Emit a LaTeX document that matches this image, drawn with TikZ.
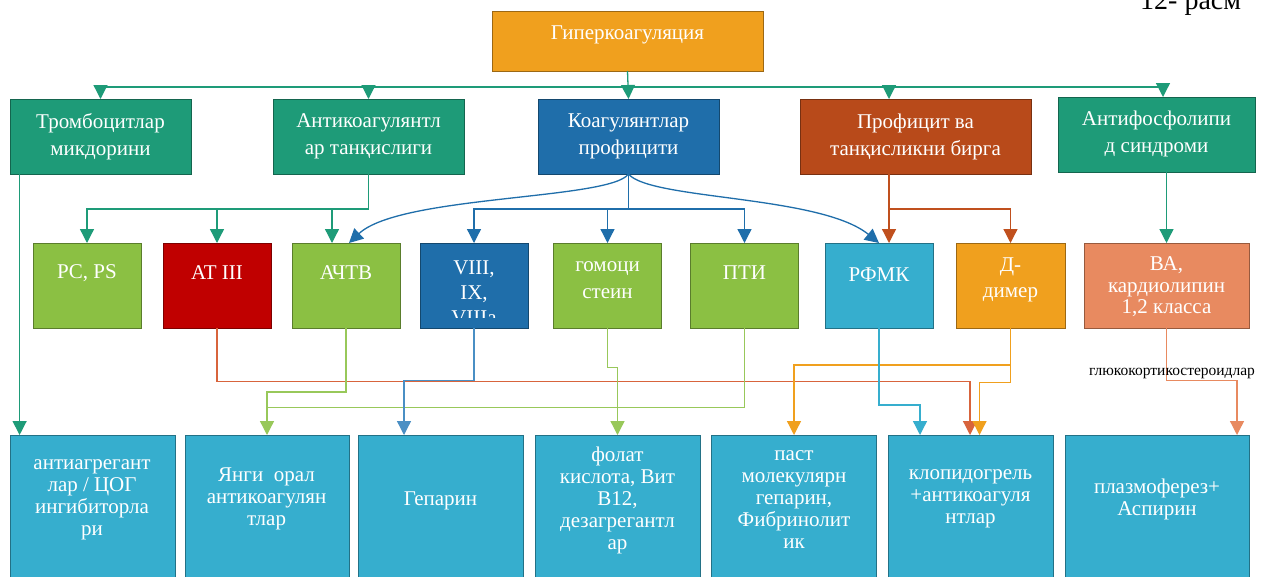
\documentclass[tikz,border=0pt]{standalone}
\usepackage{fontspec}
\setmainfont{Liberation Serif}
\usetikzlibrary{arrows.meta,calc}
\definecolor{cOrange}{HTML}{F0A01E}
\definecolor{cTeal}{HTML}{1E9B78}
\definecolor{cBlue}{HTML}{1F6EAA}
\definecolor{cRust}{HTML}{B84A1A}
\definecolor{cLGreen}{HTML}{8BC043}
\definecolor{cRed}{HTML}{C00000}
\definecolor{cCyan}{HTML}{36AECE}
\definecolor{cSalmon}{HTML}{E88A60}
\definecolor{lAt}{HTML}{D8643C}
\definecolor{lSteel}{HTML}{4A8FC4}
\definecolor{lGreen}{HTML}{98C85A}
\definecolor{lRust}{HTML}{C0501E}
\begin{document}
\begin{tikzpicture}[x=1pt,y=-1pt,
  box/.style={draw=#1!65!black, fill=#1, line width=0.9pt, inner sep=0pt, outer sep=0pt, anchor=north west},
  txt/.style={text=white, align=center, inner sep=0pt, font=\fontsize{21}{27}\selectfont},
  txtb/.style={text=white, align=center, inner sep=0pt, font=\fontsize{21}{22}\selectfont},
  con/.style={draw=#1, line width=1.3pt, -{Triangle[width=14pt,length=14pt]}, color=#1},
  ln/.style={draw=#1, line width=1.3pt}
]
\fill[white] (0,0) rectangle (1266,576);
\useasboundingbox (0,0) rectangle (1266,576);

% caption fragment (cut by the top edge, as in the reference)
\node[anchor=base west, inner sep=0pt, font=\fontsize{28}{30}\selectfont] (cap) at (1140,9) {12- расм};

% level coordinates
\coordinate (hbar) at (0,87);
\coordinate (bus) at (0,209);

% top
\node[box=cOrange, minimum width=271pt, minimum height=60pt] (hyper) at (492,11) {};
\node[txt] (hyper-t) at (627.5,35) {Гиперкоагуляция};

% row 1
\node[box=cTeal, minimum width=181pt, minimum height=75pt] (trom) at (10,99) {};
\node[txt] (trom-t) at (100.5,136.5) {Тромбоцитлар\\микдорини};
\node[box=cTeal, minimum width=191pt, minimum height=75pt] (anti) at (273,99) {};
\node[txt] (anti-t) at (368.5,136.5) {Антикоагулянтл\\ар танқислиги};
\node[box=cBlue, minimum width=181pt, minimum height=75pt] (coag) at (538,99) {};
\node[txt] (coag-t) at (628.5,136.5) {Коагулянтлар\\профицити};
\node[box=cRust, minimum width=231pt, minimum height=75pt] (prof) at (800,99) {};
\node[txt] (prof-t) at (915.5,136.5) {Профицит ва\\танқисликни бирга};
\node[box=cTeal, minimum width=197pt, minimum height=75pt] (aps) at (1058,97) {};
\node[txt] (aps-t) at (1156.5,134) {Антифосфолипи\\д синдроми};

% row 2
\node[box=cLGreen, minimum width=108pt, minimum height=85pt] (pcps) at (33,243) {};
\node[txt] (pcps-t) at (87,273) {PC, PS};
\node[box=cRed, minimum width=108pt, minimum height=85pt] (at) at (163,243) {};
\node[txt] (at-t) at (217,273) {AT III};
\node[box=cLGreen, minimum width=108pt, minimum height=85pt] (achtv) at (292,243) {};
\node[txt] (achtv-t) at (346,273) {АЧТВ};
\node[box=cBlue, minimum width=108pt, minimum height=85pt] (viii) at (420,243) {};
\begin{scope}
\clip (420,243) rectangle (528,317);
\node[txt, font=\fontsize{21}{25}\selectfont] (viii-t) at (474,293) {VIII,\\IX,\\VIIIa};
\end{scope}
\node[box=cLGreen, minimum width=108pt, minimum height=85pt] (homo) at (553.5,243) {};
\node[txt] (homo-t) at (607.5,280.5) {гомоци\\стеин};
\node[box=cLGreen, minimum width=108pt, minimum height=85pt] (pti) at (690.5,243) {};
\node[txt] (pti-t) at (744.5,273) {ПТИ};
\node[box=cCyan, minimum width=108pt, minimum height=85pt] (rfmk) at (825,243) {};
\node[txt] (rfmk-t) at (879,275) {РФМК};
\node[box=cOrange, minimum width=109pt, minimum height=85pt] (dd) at (956,243) {};
\node[txt, font=\fontsize{21}{26}\selectfont] (dd-t) at (1010.5,280) {Д-\\димер};
\node[box=cSalmon, minimum width=165pt, minimum height=85pt] (ba) at (1084,243) {};
\node[txt, font=\fontsize{21}{21.7}\selectfont] (ba-t) at (1166.5,286.7) {ВА,\\кардиолипин\\1,2 класса};

% row 3
\node[box=cCyan, minimum width=165pt, minimum height=160pt] (aag) at (10,435) {};
\node[txtb] (aag-t) at (92,500) {антиагрегант\\лар / ЦОГ\\ингибиторла\\ри};
\node[box=cCyan, minimum width=164pt, minimum height=160pt] (yangi) at (185,435) {};
\node[txtb] (yangi-t) at (266.5,499) {Янги\ \ орал\\антикоагулян\\тлар};
\node[box=cCyan, minimum width=165pt, minimum height=160pt] (hep) at (358,435) {};
\node[txtb] (hep-t) at (440.5,501) {Гепарин};
\node[box=cCyan, minimum width=165pt, minimum height=160pt] (folat) at (535,435) {};
\node[txtb] (folat-t) at (617.5,500) {фолат\\кислота, Вит\\B12,\\дезагрегантл\\ар};
\node[box=cCyan, minimum width=165pt, minimum height=160pt] (past) at (711.5,435) {};
\node[txtb] (past-t) at (794,500) {паст\\молекулярн\\гепарин,\\Фибринолит\\ик};
\node[box=cCyan, minimum width=165pt, minimum height=160pt] (klop) at (888,435) {};
\node[txtb] (klop-t) at (970.5,499) {клопидогрель\\+антикоагуля\\нтлар};
\node[box=cCyan, minimum width=184pt, minimum height=160pt] (plaz) at (1065,435) {};
\node[txtb] (plaz-t) at (1157,499) {плазмоферез+\\Аспирин};

% connector end coordinates
\coordinate (profIn) at (889,99);
\coordinate (apsIn) at (1163,97);
\coordinate (tromOut) at (19.6,174);
\coordinate (achtvT) at (332,243);
\coordinate (achtvB) at (349,243);
\coordinate (profOut) at (889,174);
\coordinate (hepIn) at (404,435);
\coordinate (klopA) at (970,435);
\coordinate (klopD) at (979.5,435);
\coordinate (klopR) at (920,435);
\coordinate (plazIn) at (1237,435);

% top level connectors
\draw[con=cTeal] (hyper.south) -- (coag.north);
\draw[con=cTeal] (hyper.south |- hbar) -| (trom.north);
\draw[con=cTeal] (hyper.south |- hbar) -| (anti.north);
\draw[con=cTeal] (hyper.south |- hbar) -| (profIn);
\draw[con=cTeal] (hyper.south |- hbar) -| (apsIn);

% row1 -> row2
\draw[con=cTeal] (tromOut) -- (tromOut |- aag.north);
\draw[con=cTeal] (anti.south) |- (pcps.north |- bus) -- (pcps.north);
\draw[con=cTeal] (anti.south |- bus) -| (at.north);
\draw[con=cTeal] (anti.south |- bus) -| (achtvT);
\draw[con=cBlue] (coag.south) |- (viii.north |- bus) -- (viii.north);
\draw[con=cBlue] (coag.south |- bus) -| (homo.north);
\draw[con=cBlue] (coag.south |- bus) -| (pti.north);
\draw[con=cBlue] (coag.south) .. controls (610,200) and (400,195) .. (achtvB);
\draw[con=cBlue] (coag.south) .. controls (650,200) and (820,195) .. (rfmk.north);
\draw[con=lRust] (profOut) -- (profOut |- rfmk.north);
\draw[con=lRust] (profOut |- bus) -| (dd.north);
\draw[con=cTeal] (ba.north |- aps.south) -- (ba.north);

% row2 -> row3
\draw[con=lAt] (at.south) |- (0,381.7 -| klopA) -- (klopA);
\draw[con=lGreen] (achtv.south) |- (0,392 -| yangi.north) -- (yangi.north);
\draw[ln=lGreen] (pti.south) |- (0,407.7 -| yangi.north) -- (0,392 -| yangi.north);
\draw[con=lSteel] (viii.south) |- (0,380.7 -| hepIn) -- (hepIn);
\draw[con=lGreen] (homo.south) |- (0,367.7 -| folat.north) -- (folat.north);
\draw[con=cOrange] (dd.south) |- (0,365 -| past.north) -- (past.north);
\draw[con=cOrange] (dd.south) |- (0,382.3 -| klopD) -- (klopD);
\draw[con=cCyan] (rfmk.south) |- (0,405 -| klopR) -- (klopR);
\draw[con=cSalmon] (ba.south) |- (0,380.7 -| plazIn) -- (plazIn);

\node[inner sep=0pt, font=\fontsize{15.5}{17}\selectfont] (gluco) at (1172,373) {глюкокортикостероидлар};
\end{tikzpicture}
\end{document}
